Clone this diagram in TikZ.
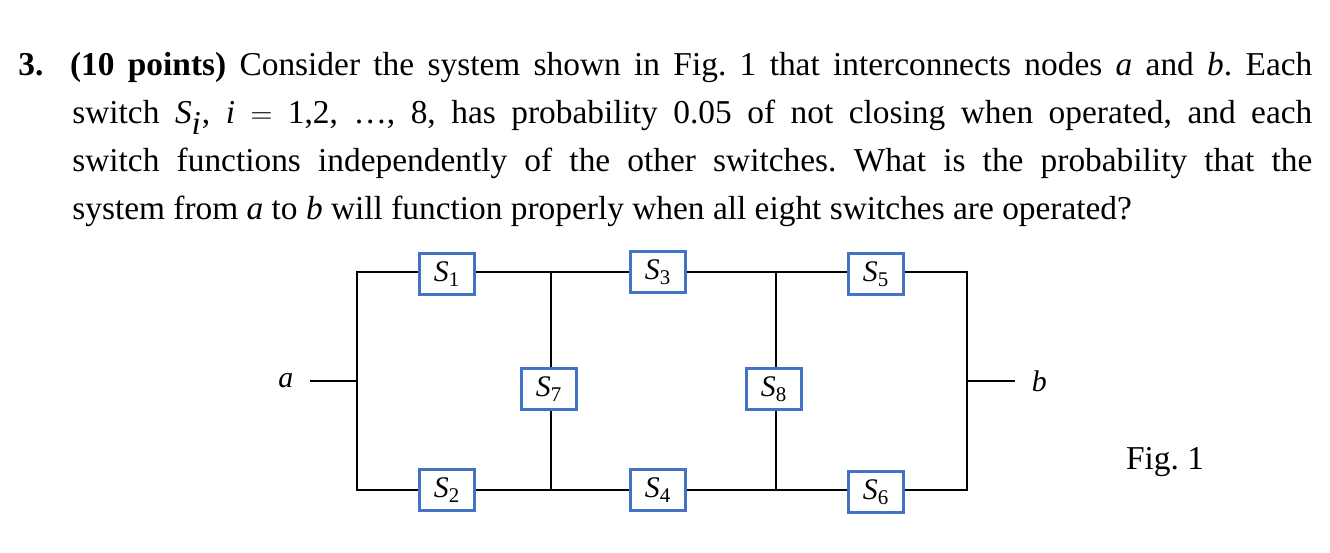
\documentclass[tikz,border=0pt]{standalone}
\usepackage{fontspec}
\setmainfont{Liberation Serif}
\frenchspacing
\usetikzlibrary{positioning}
\definecolor{boxblue}{HTML}{4472C4}
\newcommand{\vr}[1]{\textit{#1}}
\newcommand{\sw}[1]{$\vr{S}_{\mathrm{#1}}$}
\tikzset{%
  wire/.style = {draw=black, line width=1.2pt},
  switchbox/.style = {rectangle, draw=boxblue, line width=1.2pt, fill=white,
                      minimum width=1.1cm, minimum height=0.82cm,
                      font=\fontsize{17}{18}\selectfont},
  textline/.style = {anchor=base west, inner sep=0pt, font=\fontsize{19}{23}\selectfont},
}
\begin{document}
\begin{tikzpicture}[x=0.02cm, y=-0.02cm]
  \useasboundingbox (0,0) rectangle (1330,552);

  % question text
  \node (lineA) [textline] at (18,75)
    {\makebox[1294\dimexpr0.02cm\relax][s]{\textbf{3.}\ \ \textbf{(10 points)} Consider the system shown in Fig.~1 that interconnects nodes \vr{a} and \vr{b}. Each}};
  \node (lineB) [textline] at (72,123)
    {\makebox[1240\dimexpr0.02cm\relax][s]{switch $\vr{S}_{\vr{i}}$, \vr{i} $=$ 1,2, …, 8, has probability 0.05 of not closing when operated, and each}};
  \node (lineC) [textline] at (72,171)
    {\makebox[1240\dimexpr0.02cm\relax][s]{switch functions independently of the other switches. What is the probability that the}};
  \node (lineD) [textline] at (72,219)
    {system from \vr{a} to \vr{b} will function properly when all eight switches are operated?};

  % junctions
  \coordinate (topL) at (357,272);
  \coordinate (botL) at (357,490);
  \coordinate (midL) at (357,381);
  \coordinate (topR) at (967,272);
  \coordinate (botR) at (967,490);
  \coordinate (midR) at (967,381);
  \coordinate (topA) at (551,272);
  \coordinate (botA) at (551,490);
  \coordinate (topB) at (776,272);
  \coordinate (botB) at (776,490);
  \coordinate (aEnd) at (310,381);
  \coordinate (bEnd) at (1015,381);

  % wires
  \draw[wire] (topL) -- (topR) -- (botR) -- (botL) -- cycle;
  \draw[wire] (topA) -- (botA);
  \draw[wire] (topB) -- (botB);
  \draw[wire] (aEnd) -- (midL);
  \draw[wire] (midR) -- (bEnd);

  % switches
  \node (sOne)   [switchbox] at (447,274) {\sw{1}};
  \node (sThree) [switchbox] at (658,272) {\sw{3}};
  \node (sFive)  [switchbox] at (876,274) {\sw{5}};
  \node (sTwo)   [switchbox] at (447,490) {\sw{2}};
  \node (sFour)  [switchbox] at (658,490) {\sw{4}};
  \node (sSix)   [switchbox] at (876,492) {\sw{6}};
  \node (sSeven) [switchbox] at (549,389) {\sw{7}};
  \node (sEight) [switchbox] at (774,389) {\sw{8}};

  % labels
  \node (labA) [left=6pt of aEnd, font=\fontsize{17}{18}\selectfont] {\vr{a}};
  \node (labB) [right=6pt of bEnd, font=\fontsize{17}{18}\selectfont] {\vr{b}};
  \node (figLab) [font=\fontsize{19}{23}\selectfont] at (1165,462) {Fig. 1};
\end{tikzpicture}
\end{document}
